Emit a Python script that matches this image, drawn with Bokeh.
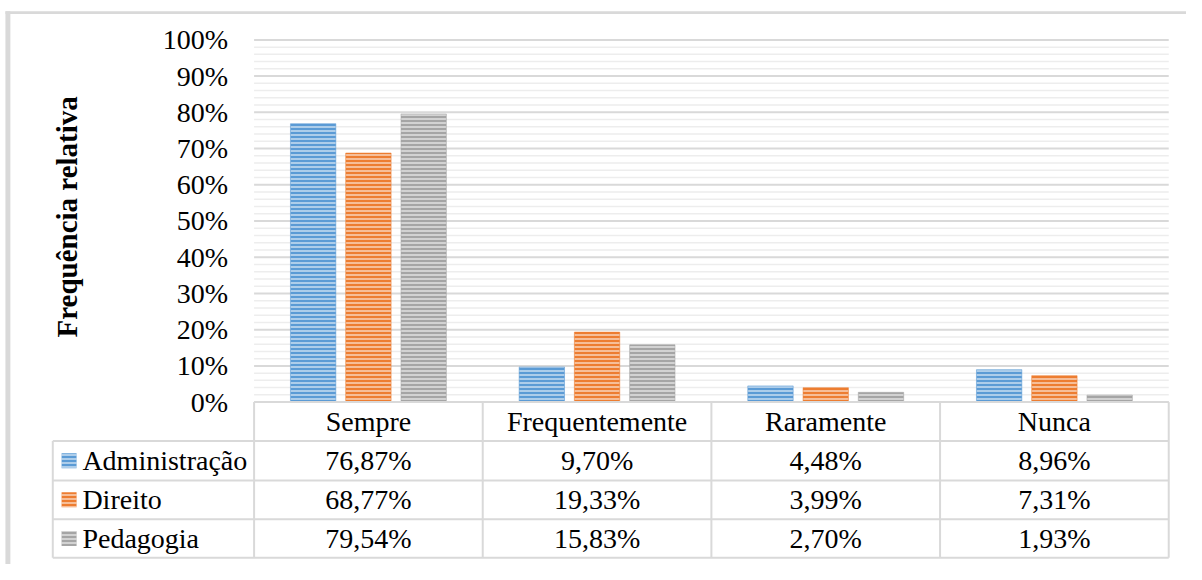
import numpy as np
from bokeh.plotting import figure
from bokeh.models import Range1d, FixedTicker, LinearAxis, ColumnDataSource
from bokeh.core.properties import value
from bokeh.embed import file_html
from bokeh.resources import INLINE

# ---------------- data ----------------
categories = ["Sempre", "Frequentemente", "Raramente", "Nunca"]
series_names = ["Administração", "Direito", "Pedagogia"]
administracao = [76.87, 9.70, 4.48, 8.96]
direito = [68.77, 19.33, 3.99, 7.31]
pedagogia = [79.54, 15.83, 2.70, 1.93]
series_values = [administracao, direito, pedagogia]
colors = ["#5B9BD5", "#ED7D31", "#A5A5A5"]
y_ticks = [0, 10, 20, 30, 40, 50, 60, 70, 80, 90, 100]
y_tick_labels = ["0%", "10%", "20%", "30%", "40%", "50%", "60%", "70%", "80%", "90%", "100%"]
y_minor = [v for v in range(0, 101, 2) if v % 10 != 0]
y_title = "Frequência relativa"

# ---------------- layout constants ----------------
FONT = "Liberation Serif"
W, H = 1186, 564
REF_W, REF_H = 1202, 580
PX = 231.75          # reference pixels per category
PY = 3.725           # reference pixels per percent
X0, Y0 = 257, 413    # reference pixel of (0, 0%)


def X(px):
    return (px - X0) / PX


def Y(py):
    return (Y0 - py) / PY


p = figure(width=W, height=H, output_backend="svg", toolbar_location=None,
           x_range=Range1d(X(0), X(REF_W)),
           y_range=Range1d(Y(REF_H), Y(0)),
           x_axis_type=None, y_axis_type=None,
           min_border_left=0, min_border_top=0, min_border_right=0, min_border_bottom=0)
p.border_fill_color = "#FFFFFF"
p.background_fill_color = "#FFFFFF"
p.outline_line_color = None
p.xgrid.visible = False
p.ygrid.visible = False

ncat = len(categories)

# chart-area border (left and top edges)
p.quad(left=[X(5)], right=[X(10)], bottom=[Y(REF_H)], top=[Y(11)],
       fill_color="#D9D9D9", line_color=None)
p.quad(left=[X(5)], right=[X(REF_W)], bottom=[Y(14)], top=[Y(11)],
       fill_color="#D9D9D9", line_color=None)

# gridlines
p.segment(x0=[0] * len(y_minor), x1=[ncat] * len(y_minor), y0=y_minor, y1=y_minor,
          line_color="#EDEDED", line_width=1.5)
p.segment(x0=[0] * len(y_ticks), x1=[ncat] * len(y_ticks), y0=y_ticks, y1=y_ticks,
          line_color="#D9D9D9", line_width=2)

# bars
bar_w = 46 / PX
offsets = [-56 / PX, 0, 56 / PX]
base_x = np.arange(ncat) + 0.5
for vals, col, off, name in zip(series_values, colors, offsets, series_names):
    src = ColumnDataSource(dict(x=base_x + off, top=vals))
    p.vbar(x="x", top="top", bottom=0, width=bar_w, source=src,
           fill_color=col, line_color=col, line_alpha=0.5, line_width=1,
           hatch_pattern="horizontal_line", hatch_color="white",
           hatch_alpha=0.5, hatch_scale=4, hatch_weight=2)

# y axis
yaxis = LinearAxis(fixed_location=0,
                   ticker=FixedTicker(ticks=y_ticks, minor_ticks=[]),
                   major_label_overrides={t: l for t, l in zip(y_ticks, y_tick_labels)},
                   axis_line_color=None, major_tick_line_color=None,
                   minor_tick_line_color=None, major_tick_out=0, major_tick_in=0,
                   major_label_standoff=26,
                   major_label_text_font=FONT, major_label_text_font_size="28px",
                   major_label_text_color="#000000")
p.add_layout(yaxis, "left")

# y title
p.text(x=[X(67)], y=[Y(222.5)], text=[y_title], angle=np.pi / 2,
       text_font=value(FONT), text_font_size="29px", text_font_style="bold",
       text_align="center", text_baseline="middle", text_color="#000000")

# data table
row_py = [413, 453, 493.5, 533.5, 573]
row_y = [Y(v) for v in row_py]
left_col = X(53)
tcol = "#D9D9D9"
p.segment(x0=[0], x1=[ncat], y0=[row_y[0]], y1=[row_y[0]], line_color=tcol, line_width=2)
p.segment(x0=[left_col] * 4, x1=[ncat] * 4, y0=row_y[1:], y1=row_y[1:],
          line_color=tcol, line_width=2)
p.segment(x0=list(range(ncat + 1)), x1=list(range(ncat + 1)),
          y0=[row_y[0]] * (ncat + 1), y1=[row_y[-1]] * (ncat + 1),
          line_color=tcol, line_width=2)
p.segment(x0=[left_col], x1=[left_col], y0=[row_y[1]], y1=[row_y[-1]],
          line_color=tcol, line_width=2)

p.text(x=list(base_x), y=[(row_y[0] + row_y[1]) / 2] * ncat, text=categories,
       text_font=value(FONT), text_font_size="28px", text_align="center",
       text_baseline="middle", text_color="#000000")


def fmt(v):
    return f"{v:.2f}%".replace(".", ",")


for r, (vals, col, name) in enumerate(zip(series_values, colors, series_names)):
    yc = (row_y[r + 1] + row_y[r + 2]) / 2
    p.text(x=list(base_x), y=[yc] * ncat, text=[fmt(v) for v in vals],
           text_font=value(FONT), text_font_size="28px", text_align="center",
           text_baseline="middle", text_color="#000000")
    p.rect(x=[X(69.5)], y=[yc], width=15, height=15,
           width_units="screen", height_units="screen",
           fill_color=col, line_color=None,
           hatch_pattern="horizontal_line", hatch_color="white",
           hatch_alpha=0.5, hatch_scale=4, hatch_weight=2)
    p.text(x=[X(83)], y=[yc], text=[name],
           text_font=value(FONT), text_font_size="28px", text_align="left",
           text_baseline="middle", text_color="#000000")

open("out.html", "w").write(file_html(p, INLINE))
